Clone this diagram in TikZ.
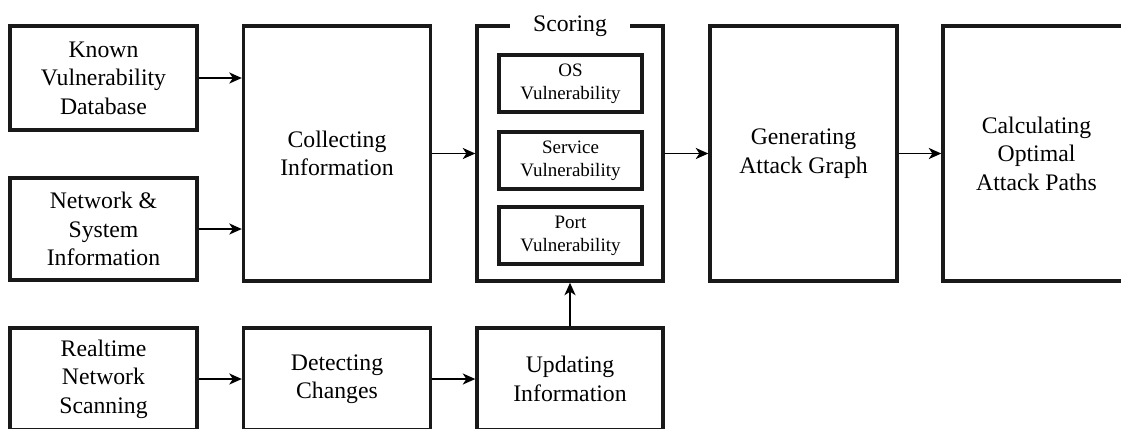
\documentclass[tikz,border=0pt]{standalone}
\usepackage{fontspec}
\setmainfont{Liberation Serif}
\usetikzlibrary{arrows.meta}

\begin{document}
\begin{tikzpicture}
% Node styles ---
\tikzstyle{blk} = [rectangle, line width = 1.9pt, draw = black!90, fill = white, align = center, inner sep = 0pt, minimum width = 3.74cm, font = \rmfamily\fontsize{13.5}{16.2}\selectfont] % Process blocks
\tikzstyle{sub} = [rectangle, line width = 1.8pt, draw = black!90, fill = white, align = center, inner sep = 0pt, minimum width = 2.86cm, minimum height = 1.14cm, font = \rmfamily\fontsize{10.8}{13}\selectfont] % Scoring parts
\tikzstyle{lbl} = [fill = white, inner xsep = 0.47cm, inner ysep = 1pt, font = \rmfamily\fontsize{13.5}{16.2}\selectfont] % Group title
% Edge styles
\tikzstyle{con} = [-{Stealth[length = 0.25cm, width = 0.22cm, inset = 0.07cm]}, line width = 1.1pt] % Flows
% Begin Figure ---
\useasboundingbox (0,0) rectangle (22.42,-8.56);
% Nodes
\node at (+2.07,-1.56) [blk, minimum height = 2.08cm] (known) {Known\\Vulnerability\\Database};
\node at (+2.07,-4.58) [blk, minimum height = 2.04cm] (netw) {Network \&\\System\\Information};
\node at (+2.07,-7.58) [blk, minimum height = 2.04cm] (scan) {Realtime\\Network\\Scanning};
\node at (+6.74,-3.07) [blk, minimum height = 5.10cm] (collect) {Collecting\\Information};
\node at (+11.40,-3.07) [blk, minimum height = 5.10cm, minimum width = 3.72cm] (score) {};
\node at (+16.07,-3.07) [blk, minimum height = 5.10cm] (gen) {Generating\\Attack Graph};
\node at (+20.73,-3.07) [blk, minimum height = 5.10cm] (calc) {Calculating\\Optimal\\Attack Paths};
\node at (+6.74,-7.58) [blk, minimum height = 2.04cm] (detect) {Detecting\\Changes};
\node at (+11.40,-7.58) [blk, minimum height = 2.04cm, minimum width = 3.72cm] (update) {Updating\\Information};
% Scoring parts
\node at (+11.40,-0.52) [lbl] (scoring) {Scoring};
\node at (+11.41,-1.67) [sub] (os) {OS\\Vulnerability};
\node at (+11.41,-3.21) [sub] (serv) {Service\\Vulnerability};
\node at (+11.41,-4.71) [sub] (port) {Port\\Vulnerability};
% Paths
\path (known) edge [con] (known -| collect.west);
\path (netw) edge [con] (netw -| collect.west);
\path (collect) edge [con] (score);
\path (score) edge [con] (gen);
\path (gen) edge [con] (calc);
\path (scan) edge [con] (detect);
\path (detect) edge [con] (update);
\path (update) edge [con] (score);
\end{tikzpicture}
\end{document}
